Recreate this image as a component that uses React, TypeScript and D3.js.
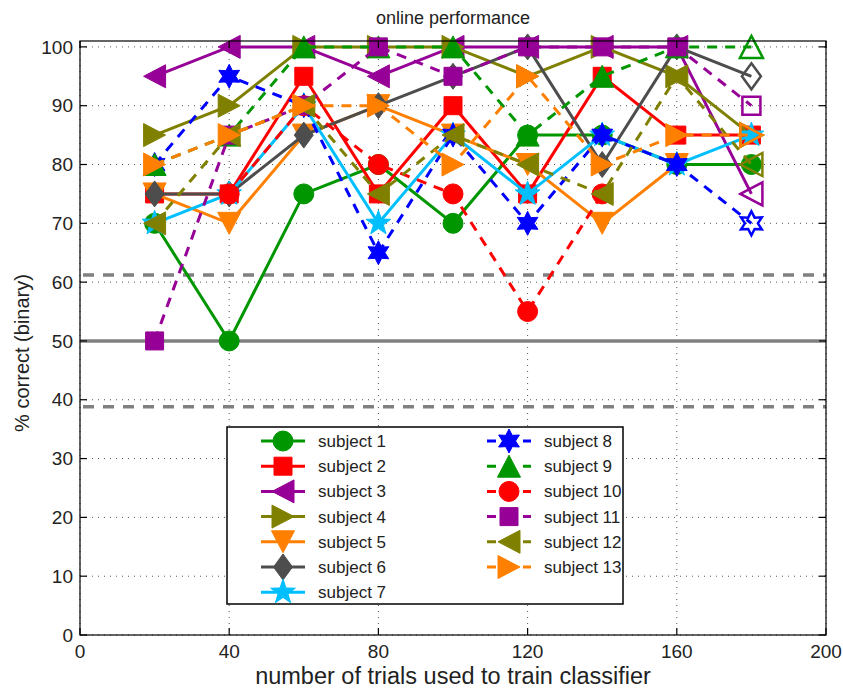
import React, { useEffect, useRef } from "react";
import * as d3 from "d3";

// training set sizes (x axis)
const trials = [20, 40, 60, 80, 100, 120, 140, 160, 180];

// % correct per subject, null = no session
const subject1 = [70, 50, 75, 80, 70, 85, 85, 80, 80];
const subject2 = [75, 75, 95, 75, 90, 75, 95, 85, 85];
const subject3 = [95, 100, 100, 95, 100, 100, 100, 100, 75];
const subject4 = [85, 90, 100, 100, 100, 95, 100, 95, 85];
const subject5 = [75, 70, 85, 90, 85, 80, 70, 80, null];
const subject6 = [75, 75, 85, 90, 95, 100, 80, 100, 95];
const subject7 = [70, 75, 90, 70, 85, 75, 85, 80, 85];
const subject8 = [80, 95, 90, 65, 85, 70, 85, 80, 70];
const subject9 = [80, 85, 100, 100, 100, 85, 95, 100, 100];
const subject10 = [null, 75, 90, 80, 75, 55, 75, null, null];
const subject11 = [50, 85, 90, 100, 95, 100, 100, 100, 90];
const subject12 = [70, 85, 90, 75, 85, 80, 75, 95, 80];
const subject13 = [80, 85, 90, 90, 80, 95, 80, 85, 85];

const subjectNames = [
  "subject 1", "subject 2", "subject 3", "subject 4", "subject 5", "subject 6", "subject 7",
  "subject 8", "subject 9", "subject 10", "subject 11", "subject 12", "subject 13",
];

const chanceLevel = 50;
const chanceBand = [38.8, 61.2];

const yTicks = [0, 10, 20, 30, 40, 50, 60, 70, 80, 90, 100];
const xTicks = [0, 40, 80, 120, 160, 200];

const GREEN = "#009600";
const RED = "#ff0000";
const PURPLE = "#960096";
const OLIVE = "#808000";
const ORANGE = "#ff8000";
const GRAY = "#4d4d4d";
const CYAN = "#00bfff";
const BLUE = "#0000ff";

// marker paths centred on 0,0
const tri = (dir: string) => {
  const a = 11.5, b = 11;
  if (dir === "up") return `M0,${-b}L${a},${b}L${-a},${b}Z`;
  if (dir === "down") return `M0,${b}L${a},${-b}L${-a},${-b}Z`;
  if (dir === "left") return `M${-b},0L${b},${-a}L${b},${a}Z`;
  return `M${b},0L${-b},${-a}L${-b},${a}Z`;
};
const starPath = (points: number, outer: number, inner: number) => {
  const pts: string[] = [];
  for (let i = 0; i < points * 2; i++) {
    const r = i % 2 === 0 ? outer : inner;
    const a = (Math.PI * i) / points - Math.PI / 2;
    pts.push(`${(r * Math.cos(a)).toFixed(2)},${(r * Math.sin(a)).toFixed(2)}`);
  }
  return "M" + pts.join("L") + "Z";
};
const markerPath: Record<string, string> = {
  circle: "M10,0A10,10 0 1,1 -10,0A10,10 0 1,1 10,0Z",
  square: "M-9,-9H9V9H-9Z",
  diamond: "M0,-13L9.5,0L0,13L-9.5,0Z",
  up: tri("up"),
  down: tri("down"),
  left: tri("left"),
  right: tri("right"),
  star: starPath(5, 13, 5.2),
  hexagram: starPath(6, 12, 6.5),
};

const series = [
  { values: subject1, color: GREEN, marker: "circle", dashed: false, openLast: false },
  { values: subject2, color: RED, marker: "square", dashed: false, openLast: false },
  { values: subject3, color: PURPLE, marker: "left", dashed: false, openLast: true },
  { values: subject4, color: OLIVE, marker: "right", dashed: false, openLast: true },
  { values: subject5, color: ORANGE, marker: "down", dashed: false, openLast: true },
  { values: subject6, color: GRAY, marker: "diamond", dashed: false, openLast: true },
  { values: subject7, color: CYAN, marker: "star", dashed: false, openLast: false },
  { values: subject8, color: BLUE, marker: "hexagram", dashed: true, openLast: true },
  { values: subject9, color: GREEN, marker: "up", dashed: true, openLast: true },
  { values: subject10, color: RED, marker: "circle", dashed: true, openLast: true },
  { values: subject11, color: PURPLE, marker: "square", dashed: true, openLast: true },
  { values: subject12, color: OLIVE, marker: "left", dashed: true, openLast: true },
  { values: subject13, color: ORANGE, marker: "right", dashed: true, openLast: true },
];

const FONT = "'Liberation Sans', Arial, Helvetica, sans-serif";

const App = () => {
  const svgRef = useRef<SVGSVGElement>(null);

  useEffect(() => {
    const svg = d3.select(svgRef.current);
    svg.selectAll("*").remove();

    const left = 80, right = 826, top = 41, bottom = 635;
    const x = d3.scaleLinear().domain([0, 200]).range([left, right]);
    const y = d3.scaleLinear().domain([0, 101]).range([bottom, top]);

    svg.append("rect").attr("width", 843).attr("height", 691).attr("fill", "#fff");

    // dotted grid
    const grid = svg.append("g").attr("stroke", "#555").attr("stroke-width", 1)
      .attr("stroke-dasharray", "1,5");
    yTicks.forEach((t) => {
      grid.append("line").attr("x1", left).attr("x2", right).attr("y1", y(t)).attr("y2", y(t));
    });
    xTicks.forEach((t) => {
      grid.append("line").attr("x1", x(t)).attr("x2", x(t)).attr("y1", top).attr("y2", bottom);
    });

    // chance level and significance band
    svg.append("line").attr("x1", left).attr("x2", right)
      .attr("y1", y(chanceLevel)).attr("y2", y(chanceLevel))
      .attr("stroke", "#808080").attr("stroke-width", 3.5);
    chanceBand.forEach((v) => {
      svg.append("line").attr("x1", left + 3).attr("x2", right)
        .attr("y1", y(v)).attr("y2", y(v))
        .attr("stroke", "#808080").attr("stroke-width", 3.5)
        .attr("stroke-dasharray", "11,9");
    });

    // subjects
    series.forEach((s) => {
      const pts = trials
        .map((t, i) => ({ t, v: s.values[i], last: i === trials.length - 1 }))
        .filter((d) => d.v !== null) as { t: number; v: number; last: boolean }[];
      const line = d3.line<{ t: number; v: number }>()
        .x((d) => x(d.t))
        .y((d) => y(d.v));
      svg.append("path")
        .attr("d", line(pts))
        .attr("fill", "none")
        .attr("stroke", s.color)
        .attr("stroke-width", 3)
        .attr("stroke-dasharray", s.dashed ? "10,8" : null);
      svg.append("g").selectAll("path")
        .data(pts)
        .enter()
        .append("path")
        .attr("transform", (d) => `translate(${x(d.t)},${y(d.v)})`)
        .attr("d", markerPath[s.marker])
        .attr("fill", (d) => (d.last && s.openLast ? "none" : s.color))
        .attr("stroke", s.color)
        .attr("stroke-width", (d) => (d.last && s.openLast ? 2.5 : 1))
        .attr("stroke-linejoin", "miter");
    });

    // axes box with inward ticks
    svg.append("rect").attr("x", left).attr("y", top)
      .attr("width", right - left).attr("height", bottom - top)
      .attr("fill", "none").attr("stroke", "#000").attr("stroke-width", 1.2);
    const ticks = svg.append("g").attr("stroke", "#000").attr("stroke-width", 1.2);
    yTicks.forEach((t) => {
      ticks.append("line").attr("x1", left).attr("x2", left + 7).attr("y1", y(t)).attr("y2", y(t));
      ticks.append("line").attr("x1", right).attr("x2", right - 7).attr("y1", y(t)).attr("y2", y(t));
    });
    xTicks.forEach((t) => {
      ticks.append("line").attr("x1", x(t)).attr("x2", x(t)).attr("y1", bottom).attr("y2", bottom - 7);
      ticks.append("line").attr("x1", x(t)).attr("x2", x(t)).attr("y1", top).attr("y2", top + 7);
    });

    const labels = svg.append("g").style("font-family", FONT).style("font-size", "19px")
      .attr("fill", "#222");
    yTicks.forEach((t) => {
      labels.append("text").attr("x", left - 7).attr("y", y(t)).attr("dy", "0.35em")
        .attr("text-anchor", "end").text(t);
    });
    xTicks.forEach((t) => {
      labels.append("text").attr("x", x(t)).attr("y", bottom + 16).attr("dy", "0.35em")
        .attr("text-anchor", "middle").text(t);
    });

    // Title
    svg.append("text").attr("x", (left + right) / 2).attr("y", 24)
      .attr("text-anchor", "middle").style("font-family", FONT).style("font-size", "18px")
      .attr("fill", "#222").text("online performance");

    // X-axis label
    svg.append("text").attr("x", (left + right) / 2).attr("y", 684)
      .attr("text-anchor", "middle").style("font-family", FONT).style("font-size", "23.5px")
      .attr("fill", "#222").text("number of trials used to train classifier");

    // Y-axis label
    svg.append("text").attr("transform", `translate(29,353) rotate(-90)`)
      .attr("text-anchor", "middle").style("font-family", FONT).style("font-size", "20px")
      .attr("fill", "#222").text("% correct (binary)");

    // legend
    const lg = svg.append("g");
    lg.append("rect").attr("x", 227).attr("y", 427).attr("width", 396).attr("height", 177)
      .attr("fill", "#fff").attr("stroke", "#000").attr("stroke-width", 1.5);
    series.forEach((s, i) => {
      const col = i < 7 ? 0 : 1;
      const row = i < 7 ? i : i - 7;
      const x0 = col === 0 ? 261 : 487;
      const cy = 441 + row * 25.2;
      lg.append("line").attr("x1", x0).attr("x2", x0 + 44).attr("y1", cy).attr("y2", cy)
        .attr("stroke", s.color).attr("stroke-width", 3)
        .attr("stroke-dasharray", s.dashed ? "9,9" : null);
      lg.append("path").attr("transform", `translate(${x0 + 22},${cy})`)
        .attr("d", markerPath[s.marker]).attr("fill", s.color)
        .attr("stroke", s.color).attr("stroke-width", 1);
      lg.append("text").attr("x", x0 + 57).attr("y", cy).attr("dy", "0.35em")
        .style("font-family", FONT).style("font-size", "17px").attr("fill", "#222")
        .text(subjectNames[i]);
    });
  }, []);

  return (
    <svg ref={svgRef} width={843} height={691}
      style={{ position: "absolute", left: 0, top: 0, display: "block" }} />
  );
};

export default App;
